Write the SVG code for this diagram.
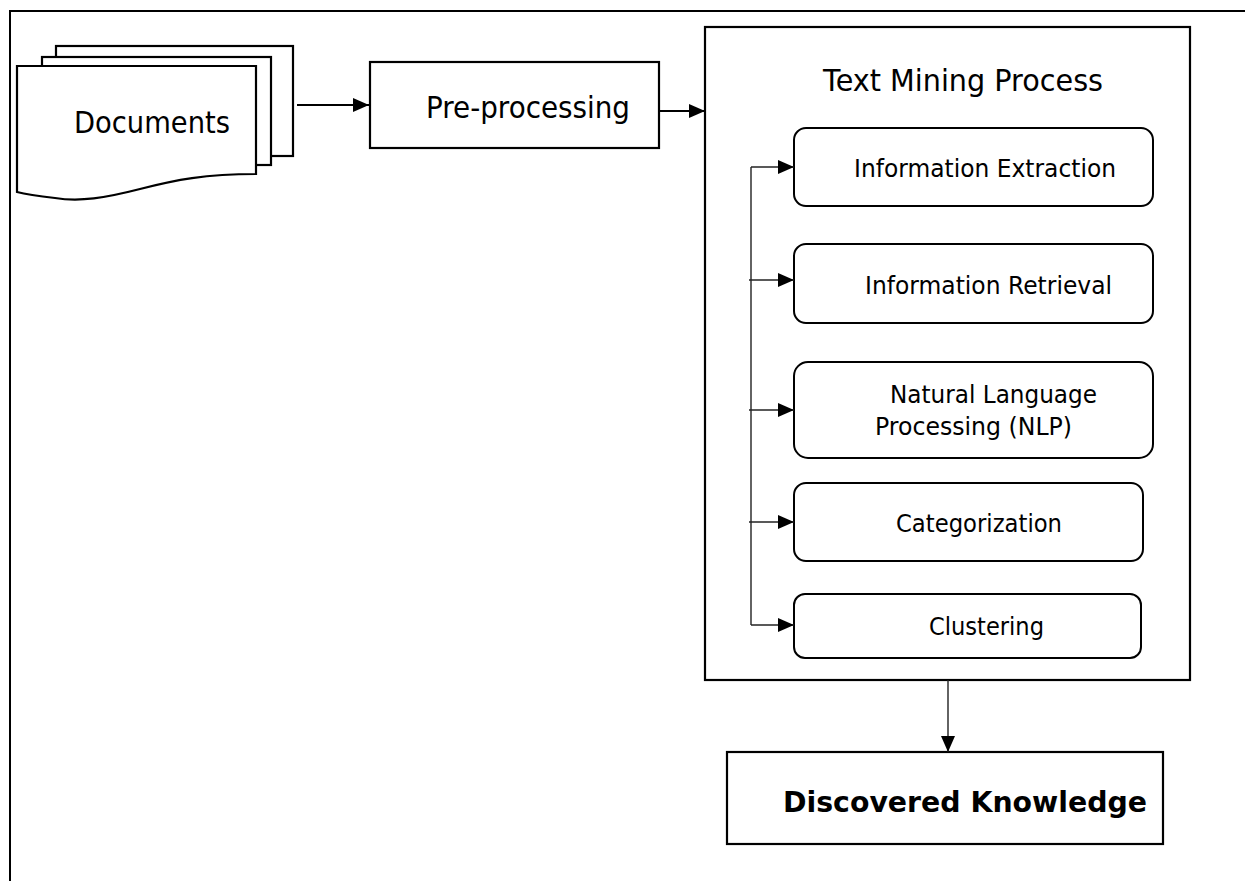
<svg xmlns="http://www.w3.org/2000/svg" width="1245" height="881" viewBox="0 0 1245 881">
<style>
.box{fill:#fff;stroke:#000;stroke-width:2.2}
.sub{fill:#fff;stroke:#000;stroke-width:2}
.ln{fill:none;stroke:#000;stroke-width:2}
.thin{fill:none;stroke:#222;stroke-width:1.4}
</style>
<defs>
<marker id="ah" markerWidth="16" markerHeight="14" refX="16" refY="7" orient="auto" markerUnits="userSpaceOnUse">
<path d="M0,0 L16,7 L0,14 Z" fill="#000"/>
</marker>
</defs>
<rect width="1245" height="881" fill="#fff"/>
<path class="ln" d="M10,881 V11 H1245"/>
<g font-family="DejaVu Sans, Liberation Sans, sans-serif" fill="#000">
<g id="documents">
<rect class="box" x="56" y="46" width="237" height="110"/>
<rect class="box" x="42" y="57" width="229" height="108"/>
<path class="box" d="M17,66 H256 V174 C205,174 175,180 140,189 C105,198 80,202 55,198 C38,196 25,194 17,192 Z"/>
<text font-size="30" x="74" y="133" textLength="156" lengthAdjust="spacingAndGlyphs">Documents</text>
</g>
<g id="preprocessing">
<rect class="box" x="370" y="62" width="289" height="86"/>
<text font-size="30" x="426" y="118" textLength="204" lengthAdjust="spacingAndGlyphs">Pre-processing</text>
</g>
<g id="textmining">
<rect class="box" x="705" y="27" width="485" height="653"/>
<text font-size="30" x="823" y="91" textLength="280" lengthAdjust="spacingAndGlyphs">Text Mining Process</text>
</g>
<g id="ie">
<rect class="sub" x="794" y="128" width="359" height="78" rx="12"/>
<text font-size="25" x="854" y="177" textLength="262" lengthAdjust="spacingAndGlyphs">Information Extraction</text>
</g>
<g id="ir">
<rect class="sub" x="794" y="244" width="359" height="79" rx="12"/>
<text font-size="25" x="865" y="294" textLength="247" lengthAdjust="spacingAndGlyphs">Information Retrieval</text>
</g>
<g id="nlp">
<rect class="sub" x="794" y="362" width="359" height="96" rx="14"/>
<text font-size="25" x="890" y="403" textLength="207" lengthAdjust="spacingAndGlyphs">Natural Language</text>
<text font-size="25" x="875" y="435" textLength="197" lengthAdjust="spacingAndGlyphs">Processing (NLP)</text>
</g>
<g id="cat">
<rect class="sub" x="794" y="483" width="349" height="78" rx="12"/>
<text font-size="25" x="896" y="532" textLength="166" lengthAdjust="spacingAndGlyphs">Categorization</text>
</g>
<g id="clu">
<rect class="sub" x="794" y="594" width="347" height="64" rx="11"/>
<text font-size="25" x="929" y="635" textLength="115" lengthAdjust="spacingAndGlyphs">Clustering</text>
</g>
<g id="knowledge">
<rect class="box" x="727" y="752" width="436" height="92"/>
<text font-size="29" font-weight="bold" x="783" y="812" textLength="364" lengthAdjust="spacingAndGlyphs">Discovered Knowledge</text>
</g>
</g>
<g id="connectors">
<line class="ln" x1="297" y1="105" x2="369" y2="105" marker-end="url(#ah)"/>
<line class="ln" x1="659" y1="111" x2="705" y2="111" marker-end="url(#ah)"/>
<path class="thin" d="M751,167 V625"/>
<line class="thin" x1="751" y1="167" x2="794" y2="167" marker-end="url(#ah)"/>
<line class="thin" x1="749" y1="280" x2="794" y2="280" marker-end="url(#ah)"/>
<line class="thin" x1="749" y1="410" x2="794" y2="410" marker-end="url(#ah)"/>
<line class="thin" x1="749" y1="522" x2="794" y2="522" marker-end="url(#ah)"/>
<line class="thin" x1="751" y1="625" x2="794" y2="625" marker-end="url(#ah)"/>
<line class="thin" x1="948" y1="680" x2="948" y2="752" marker-end="url(#ah)"/>
</g>
</svg>
